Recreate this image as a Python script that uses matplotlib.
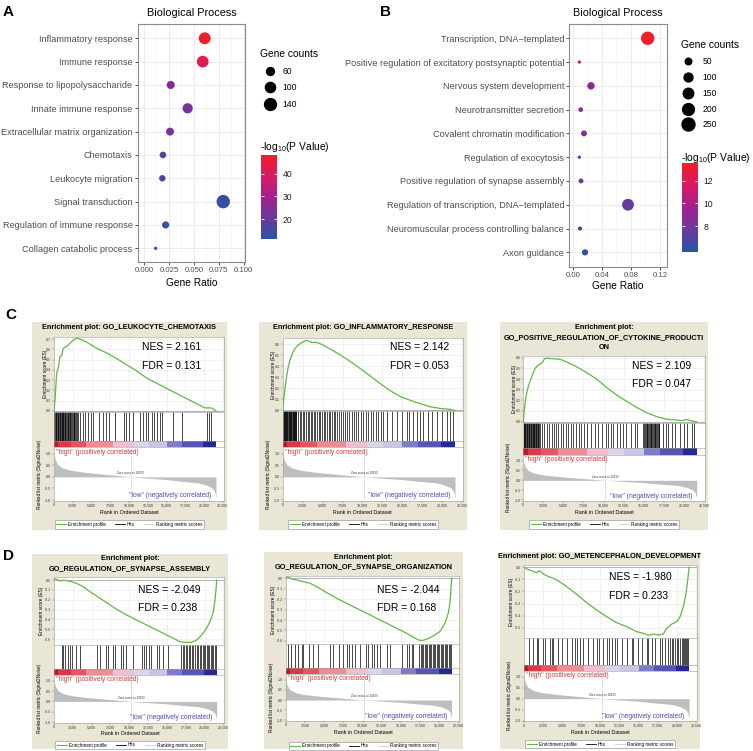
import numpy as np
import matplotlib
matplotlib.use('Agg')
import matplotlib.pyplot as plt
from matplotlib.colors import LinearSegmentedColormap
from matplotlib.lines import Line2D
from matplotlib.ticker import FuncFormatter, FormatStrFormatter, MultipleLocator

plt.rcParams['font.family'] = ['Liberation Sans', 'DejaVu Sans']
plt.rcParams['mathtext.fontset'] = 'custom'
plt.rcParams['mathtext.rm'] = 'Liberation Sans'
plt.rcParams['mathtext.it'] = 'Liberation Sans:italic'

W, H = 753, 751

# ---------------- panel A : GO dot plot ----------------
a_terms = ['Inflammatory response', 'Immune response', 'Response to lipopolysaccharide',
           'Innate immune response', 'Extracellular matrix organization', 'Chemotaxis',
           'Leukocyte migration', 'Signal transduction', 'Regulation of immune response',
           'Collagen catabolic process']
a_ratio = [0.0609, 0.0589, 0.0268, 0.0438, 0.0261, 0.0190, 0.0184, 0.0795, 0.0217, 0.0117]
a_counts = [140, 135, 62, 101, 60, 44, 42, 183, 50, 27]
a_logp = [48.0, 42.0, 25.0, 22.0, 23.0, 16.0, 16.0, 14.0, 13.0, 11.2]
a_breaks = [60, 100, 140]

# ---------------- panel B : GO dot plot ----------------
b_terms = ['Transcription, DNA\u2212templated',
           'Positive regulation of excitatory postsynaptic potential',
           'Nervous system development', 'Neurotransmitter secretion',
           'Covalent chromatin modification', 'Regulation of exocytosis',
           'Positive regulation of synapse assembly',
           'Regulation of transcription, DNA\u2212templated',
           'Neuromuscular process controlling balance', 'Axon guidance']
b_ratio = [0.1031, 0.0091, 0.0251, 0.0110, 0.0155, 0.0091, 0.0114, 0.0760, 0.0100, 0.0169]
b_counts = [270, 24, 66, 29, 41, 24, 30, 199, 26, 44]
b_logp = [13.4, 10.0, 9.4, 8.8, 8.2, 8.3, 8.0, 7.6, 6.8, 5.9]
b_breaks = [50, 100, 150, 200, 250]

# ---------------- GSEA : shared ranked list ----------------
RANK_MAX = 22600
rank_pos = [0, 60, 178, 535, 1204, 2319, 4103, 5887, 8117, 10233, 12577, 14807,
            17037, 19267, 20382, 21051, 21408, 21600]
rank_val = [1.12, 0.92, 0.74, 0.52, 0.38, 0.28, 0.20, 0.14, 0.07, 0.0, -0.06, -0.11,
            -0.19, -0.26, -0.36, -0.47, -0.61, -0.90]
band_edges = [0, 540, 2200, 4300, 7900, 10600, 12600, 15000, 17000, 19900, 21600]
band_colors = ['#b01e2b', '#d63b45', '#e0585f', '#eb8d92', '#efbfd1', '#ddd3ea',
               '#c8c6e4', '#7c7cc9', '#5656b0', '#262896']

# C1 GO_LEUKOCYTE_CHEMOTAXIS
c1_rank = [0, 133, 356, 578, 800, 1022, 1244, 1689, 2133, 2578, 3022, 3467, 4356, 5689,
           7022, 8356, 9689, 11022, 12356, 13689, 15022, 16356, 17689, 19022, 20133,
           21022, 21600]
c1_es = [0.0, 0.10, 0.37, 0.42, 0.53, 0.54, 0.61, 0.63, 0.66, 0.69, 0.71, 0.70, 0.67,
         0.61, 0.565, 0.51, 0.45, 0.39, 0.32, 0.27, 0.22, 0.17, 0.12, 0.07, 0.03, 0.03, 0.0]
c1_hits = [30, 130, 220, 300, 400, 480, 560, 650, 740, 820, 900, 1000, 1080, 1180, 1260,
           1350, 1450, 1530, 1620, 1700, 1800, 1900, 1980, 2080, 2180, 2260, 2380, 2480,
           2600, 2720, 2850, 2980, 3100, 3220, 3470, 3820, 4130, 4580, 4890, 5240, 6040,
           6490, 6930, 7380, 8130, 9330, 9600, 9950, 10490, 11470, 11910, 12220, 12580,
           13020, 13330, 13690, 14130, 14400, 15910, 17070, 20350, 20620, 20890]

# C2 GO_INFLAMMATORY_RESPONSE
c2_rank = [0, 167, 334, 501, 710, 919, 1253, 1546, 1964, 2381, 2925, 3217, 3635, 4262,
           4888, 5933, 7186, 8440, 9693, 10946, 12200, 13453, 14707, 15960, 17214, 18468,
           19722, 20975, 21600]
c2_es = [0.0, 0.119, 0.223, 0.312, 0.40, 0.46, 0.52, 0.564, 0.593, 0.617, 0.635, 0.632,
         0.617, 0.617, 0.60, 0.558, 0.504, 0.445, 0.38, 0.312, 0.243, 0.178, 0.125, 0.089,
         0.059, 0.030, 0.015, 0.006, -0.004]
c2_hits = [40, 110, 180, 250, 320, 390, 460, 530, 600, 670, 740, 810, 880, 950, 1020, 1090,
           1160, 1230, 1300, 1370, 1440, 1510, 1580, 1650, 1720, 1950, 2150, 2300, 2550,
           2700, 2950, 3150, 3300, 3500, 3700, 3950, 4100, 4350, 4500, 4700, 4950, 5150,
           5300, 5550, 5750, 5900, 6150, 6400, 6600, 6850, 7050, 7300, 7550, 7800, 8000,
           8300, 8650, 8940, 9190, 9480, 9780, 10110, 10400, 10740, 11030, 11360, 11700,
           11910, 12330, 12620, 13040, 13660, 14290, 14920, 15540, 15880, 16380, 16800,
           17210, 17630, 18260, 18680, 19300, 19930, 20560, 20980, 21310]

# C3 GO_POSITIVE_REGULATION_OF_CYTOKINE_PRODUCTION
c3_rank = [0, 125, 332, 623, 1038, 1454, 1869, 2285, 2700, 3115, 3738, 4569, 5400, 6646,
           7892, 9138, 10385, 11631, 12877, 14123, 15369, 16615, 17862, 19108, 19731,
           20354, 20977, 21600]
c3_es = [0.0, 0.11, 0.234, 0.33, 0.42, 0.50, 0.53, 0.55, 0.594, 0.594, 0.59, 0.585, 0.56,
         0.515, 0.46, 0.40, 0.32, 0.25, 0.19, 0.134, 0.084, 0.047, 0.022, 0.016, 0.009,
         0.02, 0.006, 0.0]
c3_hits = [30, 110, 190, 270, 350, 430, 510, 590, 670, 750, 830, 910, 990, 1070, 1150,
           1230, 1310, 1390, 1470, 1550, 1630, 1710, 1790, 1870, 1950, 2030, 2285, 2575,
           2908, 3240, 3531, 3822, 4071, 4362, 4652, 4985, 5317, 5608, 5899, 6231, 6563,
           6896, 7228, 7560, 7976, 8391, 8931, 9347, 9762, 10302, 10593, 10883, 11216,
           11714, 12047, 12379, 12794, 13376, 13916, 14207, 14950, 15050, 15150, 15250,
           15350, 15450, 15550, 15650, 15750, 15850, 15950, 16050, 16150, 16250, 16350,
           16450, 16550, 16650, 16750, 16850, 16950, 17447, 17779, 18070, 18485, 18901,
           19524, 20022, 20437, 20977, 21268]

# D1 GO_REGULATION_OF_SYNAPSE_ASSEMBLY
d1_rank = [0, 354, 797, 1239, 1682, 2346, 3010, 3895, 4780, 5665, 6993, 8321, 9649, 10976,
           12304, 13632, 14960, 15845, 16730, 17394, 18280, 18943, 19607, 20271, 20802,
           21156, 21378, 21511, 21600]
d1_es = [0.014, 0.007, -0.01, -0.003, -0.007, -0.017, -0.034, -0.068, -0.119, -0.163,
         -0.23, -0.298, -0.356, -0.407, -0.458, -0.508, -0.559, -0.593, -0.627, -0.634,
         -0.634, -0.61, -0.559, -0.49, -0.407, -0.322, -0.203, -0.10, 0.0]
d1_hits = [1018, 1239, 1461, 1903, 2124, 2346, 2921, 3452, 5665, 6108, 6905, 7214, 7878,
           8100, 8852, 9206, 9560, 10445, 11640, 11950, 12216, 12658, 12880, 13632, 13986,
           14517, 15181, 16819, 17084, 17306, 17527, 17704, 17881, 18058, 18280, 18501,
           18722, 18943, 19164, 19386, 19563, 19740, 19917, 20094, 20271, 20448, 20625,
           20802, 20979, 21156, 21333, 21511]

# D2 GO_REGULATION_OF_SYNAPSE_ORGANIZATION
d2_rank = [0, 347, 781, 1431, 2299, 3166, 4033, 5335, 6636, 7937, 9238, 10539, 11840,
           13141, 14442, 15743, 16611, 17261, 17695, 18345, 19213, 20080, 20731, 21164,
           21381, 21511, 21600]
d2_es = [0.01, 0.01, -0.006, -0.016, -0.032, -0.048, -0.08, -0.137, -0.192, -0.24,
         -0.288, -0.335, -0.383, -0.431, -0.479, -0.527, -0.565, -0.591, -0.597, -0.585,
         -0.553, -0.511, -0.431, -0.335, -0.24, -0.112, 0.0]
d2_hits = [347, 651, 1214, 1648, 2082, 2299, 3079, 3600, 4250, 5768, 6202, 6983, 7416,
           7937, 8284, 8587, 9021, 9672, 10452, 10756, 11189, 11493, 11840, 12274, 13141,
           13575, 15093, 15743, 16090, 16394, 16611, 17391, 17565, 17738, 17912, 18085,
           18259, 18432, 18606, 18779, 18952, 19126, 19299, 19473, 19646, 19820, 19993,
           20167, 20340, 20514, 20687, 20861, 21034, 21208, 21381, 21554]

# D3 GO_METENCEPHALON_DEVELOPMENT
d3_rank = [0, 349, 1004, 1658, 2007, 2531, 3186, 3840, 4495, 5586, 6895, 8204, 9513,
           10823, 12132, 13441, 14750, 15623, 16277, 16932, 17586, 18241, 18677, 19332,
           19987, 20423, 20859, 21208, 21427, 21600]
d3_es = [0.0, -0.014, -0.028, -0.044, -0.028, -0.055, -0.077, -0.091, -0.113, -0.16,
         -0.224, -0.293, -0.354, -0.409, -0.459, -0.492, -0.533, -0.547, -0.564, -0.552,
         -0.561, -0.552, -0.506, -0.47, -0.45, -0.409, -0.326, -0.215, -0.105, 0.0]
d3_hits = [698, 1135, 1658, 1877, 2531, 2749, 3404, 3622, 3840, 4495, 4931, 5586, 6241,
           6677, 6982, 7332, 7768, 8423, 9077, 9513, 9863, 10386, 10823, 11128, 11477,
           11914, 12219, 12787, 13441, 14096, 14314, 14969, 15405, 16060, 16277, 16714,
           17150, 17805, 18023, 18459, 18895, 19114, 19332, 19550, 19769, 19987, 20205,
           20423, 20641, 20772, 20947, 21078, 21208, 21339, 21470]

BEIGE = '#e9e6d5'
GREEN = '#5fb843'
GRAY_TXT = '#4d4d4d'

cmap = LinearSegmentedColormap.from_list(
    'bp', ['#2655a6', '#6a3a9b', '#a3208f', '#d81a63', '#ee2028'])


def px_rect(l, t, r, b):
    return [l / W, 1 - b / H, (r - l) / W, (b - t) / H]


def fx(x):
    return x / W


def fy(y):
    return 1 - y / H


def dot_diam(counts, cmin, cmax, dmin=3.3, dmax=13.4):
    f = np.sqrt((np.asarray(counts, float) - cmin) / (cmax - cmin))
    return dmin + (dmax - dmin) * f


fig = plt.figure(figsize=(W / 100, H / 100), dpi=100)


def dot_panel(box, terms, ratio, counts, logp, crange, xlim, xticks, xminor, xfmt,
              title_y, xlab_y, cbar_box, cbar_ticks, breaks, leg_xy, leg_len, leg_pad,
              leg_sp, cb_title_xy):
    ax = fig.add_axes(px_rect(*box))
    y = np.arange(len(terms))
    cmin, cmax = min(counts), max(counts)
    d = dot_diam(counts, cmin, cmax)
    sc = ax.scatter(ratio, y, s=(d * 0.72) ** 2, c=logp, cmap=cmap,
                    vmin=crange[0], vmax=crange[1], edgecolors='none', zorder=3)
    ax.set_xlim(*xlim)
    ax.set_ylim(len(terms) - 0.4, -0.6)
    ax.set_yticks(y, terms)
    ax.set_xticks(xticks)
    ax.xaxis.set_minor_locator(MultipleLocator(xminor))
    ax.xaxis.set_major_formatter(FormatStrFormatter(xfmt))
    ax.grid(True, which='major', color='#ebebeb', lw=0.7)
    ax.grid(True, which='minor', axis='x', color='#f3f3f3', lw=0.45)
    ax.set_axisbelow(True)
    ax.tick_params(axis='both', which='major', length=2.4, width=0.6, color='#333333',
                   labelcolor=GRAY_TXT, pad=1.3)
    ax.tick_params(axis='y', labelsize=6.6)
    ax.tick_params(axis='x', labelsize=5.6)
    ax.tick_params(which='minor', length=0)
    for s in ax.spines.values():
        s.set_color('#8a8a8a')
        s.set_linewidth(0.8)
    cx = (box[0] + box[2]) / 2
    fig.text(fx(cx), fy(title_y), 'Biological Process', fontsize=7.8, ha='center', va='center')
    fig.text(fx(cx), fy(xlab_y), 'Gene Ratio', fontsize=7.3, ha='center', va='center')

    # size legend
    handles = [Line2D([], [], ls='', marker='o', color='black',
                      markersize=dot_diam(v, cmin, cmax) * 0.72) for v in breaks]
    ax.legend(handles, [str(v) for v in breaks], title='Gene counts', loc='upper left',
              bbox_to_anchor=(fx(leg_xy[0]), fy(leg_xy[1])), bbox_transform=fig.transFigure,
              frameon=False, fontsize=6.2, title_fontsize=7.4, borderpad=0,
              handlelength=leg_len, handletextpad=leg_pad, labelspacing=leg_sp,
              alignment='left', borderaxespad=0)

    # colour bar
    cax = fig.add_axes(px_rect(*cbar_box))
    cb = fig.colorbar(sc, cax=cax)
    cb.outline.set_visible(False)
    cb.set_ticks(cbar_ticks)
    cax.tick_params(length=2.4, width=0.6, color='white', direction='in', labelsize=6.2,
                    pad=4, left=True, right=True, labelcolor='#222222')
    fig.text(fx(cb_title_xy[0]), fy(cb_title_xy[1]), '-log$_{10}$(P Value)', fontsize=7.4,
             ha='left', va='center')
    return ax


dot_panel((137.7, 24.3, 245, 262.3), a_terms, a_ratio, a_counts, a_logp, (11.0, 48.4),
          (-0.0063, 0.1013), [0, 0.025, 0.05, 0.075, 0.1], 0.0125, '%.3f',
          13.3, 283, (260.7, 155, 277.3, 239.3), [20, 30, 40], a_breaks,
          (260, 49), 2.32, 0.27, 0.9, (260, 146.5))
dot_panel((569.3, 24, 666.7, 266.6), b_terms, b_ratio, b_counts, b_logp, (5.8, 13.5),
          (-0.0047, 0.1292), [0, 0.04, 0.08, 0.12], 0.02, '%.2f',
          13.3, 286, (681.7, 163.3, 697.7, 251.7), [8, 10, 12], b_breaks,
          (680.7, 40), 1.77, 0.78, 0.8, (680.7, 157.7))


def style(ax):
    for s in ax.spines.values():
        s.set_color('#9a9a9a')
        s.set_linewidth(0.4)
    ax.tick_params(labelsize=2.5, length=1.2, width=0.3, pad=0.8, color='#666666',
                   labelcolor='#333333')


def gsea_panel(box, plot_x, rows, titles, nes_xy, nes, fdr, es_rank, es_val, hits,
               es_lim, es_ticks, xlab_y, leg_y, es_off):
    l, t, r, b = box
    pl, pr = plot_x
    es_t, es_b, hit_b, band_b, rank_b = rows
    bcx = (l + r) / 2
    bg = fig.add_axes(px_rect(l, t, r, b))
    bg.set_facecolor(BEIGE)
    bg.set_xticks([])
    bg.set_yticks([])
    for s in bg.spines.values():
        s.set_visible(False)

    for txt, ty in titles:
        fig.text(fx(bcx), fy(ty), txt, fontsize=5.3, weight='bold', ha='center', va='center')

    # running enrichment score
    ax = fig.add_axes(px_rect(pl, es_t, pr, es_b))
    ax.plot(es_rank, es_val, color=GREEN, lw=0.9, zorder=3)
    ax.axhline(0, color='#9a9a9a', lw=0.5, zorder=2)
    ax.set_xlim(0, RANK_MAX)
    ax.set_ylim(*es_lim)
    ax.set_yticks(es_ticks)
    ax.yaxis.set_major_formatter(FormatStrFormatter('%.1f'))
    ax.set_xticks(np.arange(0, 22501, 2500))
    ax.grid(color='#e6e6e6', lw=0.4)
    style(ax)
    ax.tick_params(axis='x', length=0, labelbottom=False)
    ax.text(-es_off / (pr - pl), 0.5, 'Enrichment score (ES)', rotation=90, fontsize=3.4,
            ha='center', va='center', transform=ax.transAxes)
    fig.text(fx(nes_xy[0]), fy(nes_xy[1]), nes, fontsize=7.5, ha='left', va='center')
    fig.text(fx(nes_xy[0]), fy(nes_xy[2]), fdr, fontsize=7.5, ha='left', va='center')

    # hits
    axh = fig.add_axes(px_rect(pl, es_b, pr, hit_b))
    axh.vlines(hits, 0, 1, color='black', lw=0.5)
    axh.set_xlim(0, RANK_MAX)
    axh.set_ylim(0, 1)
    axh.set_xticks([])
    axh.set_yticks([])
    style(axh)

    # colour band of the ranking
    axb = fig.add_axes(px_rect(pl, hit_b, pr, band_b))
    for i, c in enumerate(band_colors):
        axb.axvspan(band_edges[i], band_edges[i + 1], color=c, lw=0)
    axb.set_xlim(0, RANK_MAX)
    axb.set_xticks([])
    axb.set_yticks([])
    style(axb)

    # ranked list metric
    axr = fig.add_axes(px_rect(pl, band_b, pr, rank_b))
    axr.fill_between(rank_pos, rank_val, 0, color='#bebebe', lw=0)
    axr.axvline(10233, color='#999999', lw=0.4, ls=(0, (2, 2)))
    axr.set_xlim(0, RANK_MAX)
    axr.set_ylim(-1.02, 1.28)
    axr.set_yticks([-1.0, -0.5, 0.0, 0.5, 1.0])
    axr.yaxis.set_major_formatter(FormatStrFormatter('%.1f'))
    axr.set_xticks(np.arange(0, 22501, 2500))
    axr.xaxis.set_major_formatter(FuncFormatter(lambda v, p: f'{int(v):,}'))
    style(axr)
    axr.text(250, 1.06, '"high" (positively correlated)', color='#d83a3a', fontsize=4.8,
             ha='left', va='center')
    axr.text(21000, -0.80, '"low" (negatively correlated)', color='#4b4fae', fontsize=4.8,
             ha='right', va='center')
    axr.text(10233, 0.08, 'Zero cross at 10233', fontsize=2.2, ha='center', va='bottom',
             color='#333333')
    rh = rank_b - band_b
    axr.text(-14.5 / (pr - pl), 0.5, 'Ranked list metric (Signal2Noise)', rotation=90,
             fontsize=3.3, ha='center', va='center', transform=axr.transAxes)
    axr.text((bcx - pl) / (pr - pl), -(xlab_y - rank_b) / rh, 'Rank in Ordered Dataset',
             fontsize=3.8, ha='center', va='center', transform=axr.transAxes)
    handles = [Line2D([], [], color=GREEN, lw=0.8), Line2D([], [], color='black', lw=0.6),
               Line2D([], [], color='#cccccc', lw=0.6)]
    leg = axr.legend(handles, ['Enrichment profile', 'Hits', 'Ranking metric scores'],
                     ncol=3, fontsize=3.3, loc='center',
                     bbox_to_anchor=((bcx - pl) / (pr - pl), -(leg_y - rank_b) / rh),
                     frameon=True, fancybox=False, edgecolor='#888888', facecolor='white',
                     framealpha=1, handlelength=2.2, handletextpad=0.4, columnspacing=2.0,
                     borderpad=0.35)
    leg.get_frame().set_linewidth(0.4)


gsea_panel((32.3, 322.3, 226.7, 530), (54, 223.5), (336.7, 411.7, 440.7, 447.3, 500.5),
           [('Enrichment plot: GO_LEUKOCYTE_CHEMOTAXIS', 327.7)],
           (141.7, 347.3, 366), 'NES = 2.161', 'FDR = 0.131', c1_rank, c1_es, c1_hits,
           (-0.007, 0.723), np.arange(0, 0.71, 0.1), 512.5, 524.5, 8.8)
gsea_panel((259, 322, 466.7, 530), (282.7, 463), (338.3, 410.7, 440.7, 447.3, 500.5),
           [('Enrichment plot: GO_INFLAMMATORY_RESPONSE', 327.7)],
           (390, 347.3, 366), 'NES = 2.142', 'FDR = 0.053', c2_rank, c2_es, c2_hits,
           (-0.006, 0.655), np.arange(0, 0.61, 0.1), 512.5, 524.5, 8.8)
gsea_panel((500, 321.7, 708.3, 530), (523.3, 704.7), (356, 422.7, 448.3, 455, 500.5),
           [('Enrichment plot:', 327.7), ('GO_POSITIVE_REGULATION_OF_CYTOKINE_PRODUCTI', 337.7),
            ('ON', 347.3)],
           (631.7, 366, 384.3), 'NES = 2.109', 'FDR = 0.047', c3_rank, c3_es, c3_hits,
           (-0.01, 0.616), np.arange(0, 0.61, 0.1), 512.5, 524.5, 8.8)
gsea_panel((32.3, 554, 227.7, 749.3), (54, 224.2), (576.7, 645, 669.3, 675, 722.5),
           [('Enrichment plot:', 559), ('GO_REGULATION_OF_SYNAPSE_ASSEMBLY', 568.7)],
           (138.3, 590, 608.3), 'NES = -2.049', 'FDR = 0.238', d1_rank, d1_es, d1_hits,
           (-0.661, 0.034), np.arange(0, -0.61, -0.1), 733.3, 745, 12.5)
gsea_panel((264, 551.7, 462.7, 749.3), (285.7, 459.3), (576, 644.3, 668.3, 674.3, 720.5),
           [('Enrichment plot:', 557.3), ('GO_REGULATION_OF_SYNAPSE_ORGANIZATION', 566.7)],
           (376.7, 590, 608.3), 'NES = -2.044', 'FDR = 0.168', d2_rank, d2_es, d2_hits,
           (-0.633, 0.022), np.arange(0, -0.61, -0.1), 732.3, 745.7, 12.5)
gsea_panel((500, 551.7, 700, 749.3), (524, 696.7), (565, 638.3, 665, 670.7, 721),
           [('Enrichment plot: GO_METENCEPHALON_DEVELOPMENT', 556.7)],
           (609.3, 577.3, 595.7), 'NES = -1.980', 'FDR = 0.233', d3_rank, d3_es, d3_hits,
           (-0.588, 0.019), np.arange(0, -0.51, -0.1), 732.7, 744.3, 12.5)

# panel letters
for letter, lx, ly in [('A', 3, 12), ('B', 380, 12), ('C', 5, 315), ('D', 3.3, 556)]:
    fig.text(fx(lx), fy(ly), letter, fontsize=11, weight='bold', ha='left', va='center')

fig.savefig('out.png', dpi=100)
